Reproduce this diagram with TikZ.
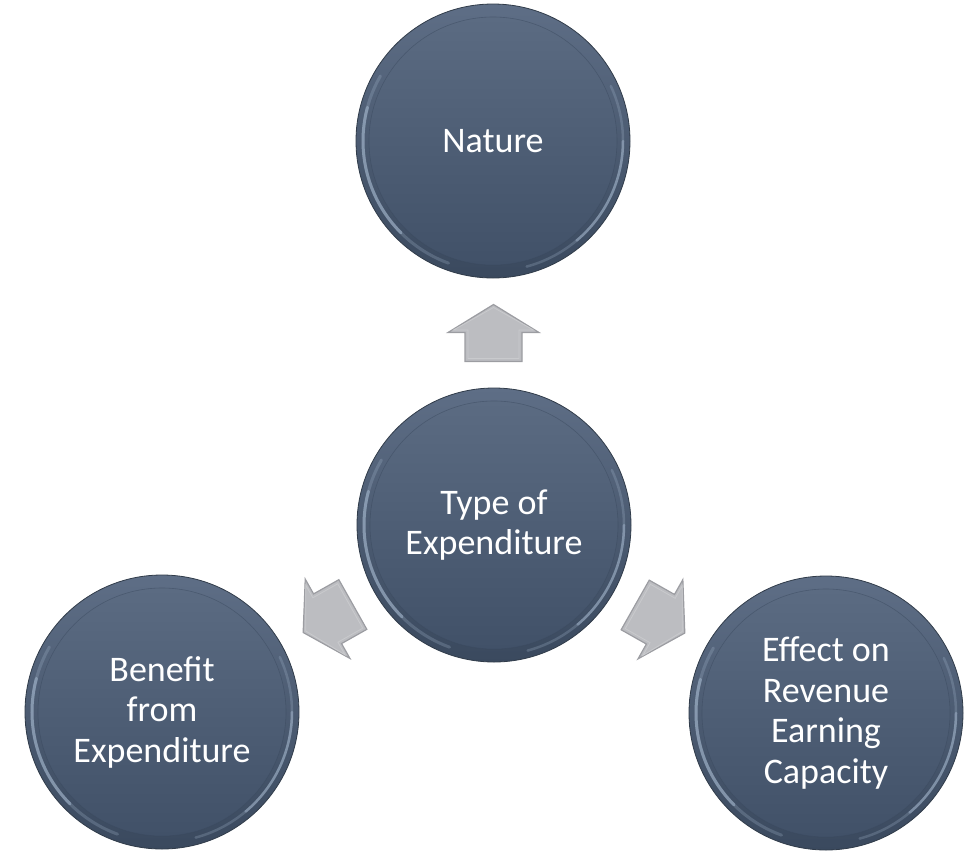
\documentclass[tikz,border=0pt]{standalone}
\usepackage{fontspec}
\setmainfont{Carlito}
\usetikzlibrary{calc}

\definecolor{discTop}{HTML}{5E6E86}
\definecolor{discBot}{HTML}{3A495E}
\definecolor{faceTop}{HTML}{5B6B82}
\definecolor{faceBot}{HTML}{415168}
\definecolor{discEdge}{HTML}{313C4A}
\definecolor{rimLight}{HTML}{A9BCD2}
\definecolor{arrowFill}{HTML}{BCBDC1}
\definecolor{arrowEdge}{HTML}{9C9DA2}
\definecolor{arrowInner}{HTML}{C9CACD}

\tikzset{
  discbody/.style={top color=discTop, bottom color=discBot, draw=discEdge, line width=0.8pt},
  discface/.style={top color=faceTop, bottom color=faceBot},
  rimglow/.style={rimLight, line cap=round},
  disclabel/.style={circle, minimum size=274pt, inner sep=0pt,
    text=white, align=center, font=\fontsize{36}{40.5}\selectfont},
  blockarrow/.style={fill=arrowFill, draw=arrowEdge, line width=1.2pt, line join=miter},
  arrowbevel/.style={draw=arrowInner, line width=0.8pt, line join=miter},
}

\begin{document}
\begin{tikzpicture}[x=1pt, y=-1pt]
  \useasboundingbox (0,0) rectangle (967,852);

  % bevelled discs
  \foreach \cx/\cy in {493/141, 494/525, 162/712, 826/713}{
    \begin{scope}[shift={(\cx,\cy)}]
      \shade[discbody] (0,0) circle (137pt);
      % light rim on the left and right of the bevel
      \draw[rimglow, line width=3pt, opacity=.25] (150:130pt) arc (150:250:130pt);
      \draw[rimglow, line width=3pt, opacity=.5]  (165:130pt) arc (165:225:130pt);
      \draw[rimglow, line width=2.5pt, opacity=.25] (-75:130pt) arc (-75:25:130pt);
      \draw[rimglow, line width=2.5pt, opacity=.45] (-50:130pt) arc (-50:0:130pt);
      % flat face
      \shade[discface] (0,0) circle (124pt);
      \draw[discBot, line width=0.6pt, opacity=.5] (0,0) circle (124pt);
    \end{scope}
  }

  \node[disclabel] (top) at (493,141) {Nature};
  \node[disclabel] (ctr) at (494,525) {Type of\\Expenditure};
  \node[disclabel] (lft) at (162,712) {Benefit\\from\\Expenditure};
  \node[disclabel] (rgt) at (826,713) {Effect on\\Revenue\\Earning\\Capacity};

  % block arrows halfway between the centre disc and each outer disc
  \foreach \target/\ang in {top/0, lft/119.4, rgt/-119.5}{
    \draw[blockarrow, shift={($(ctr)!0.5!(\target)$)}, rotate=\ang]
      (0pt,28.5pt) -- (45.5pt,0.5pt) -- (28.5pt,0.5pt) -- (28.5pt,-28.5pt)
      -- (-28.5pt,-28.5pt) -- (-28.5pt,0.5pt) -- (-45.5pt,0.5pt) -- cycle;
    \draw[arrowbevel, shift={($(ctr)!0.5!(\target)$)}, rotate=\ang]
      (0pt,25.5pt) -- (40pt,3pt) -- (25.5pt,3pt) -- (25.5pt,-25.5pt)
      -- (-25.5pt,-25.5pt) -- (-25.5pt,3pt) -- (-40pt,3pt) -- cycle;
  }
\end{tikzpicture}
\end{document}
